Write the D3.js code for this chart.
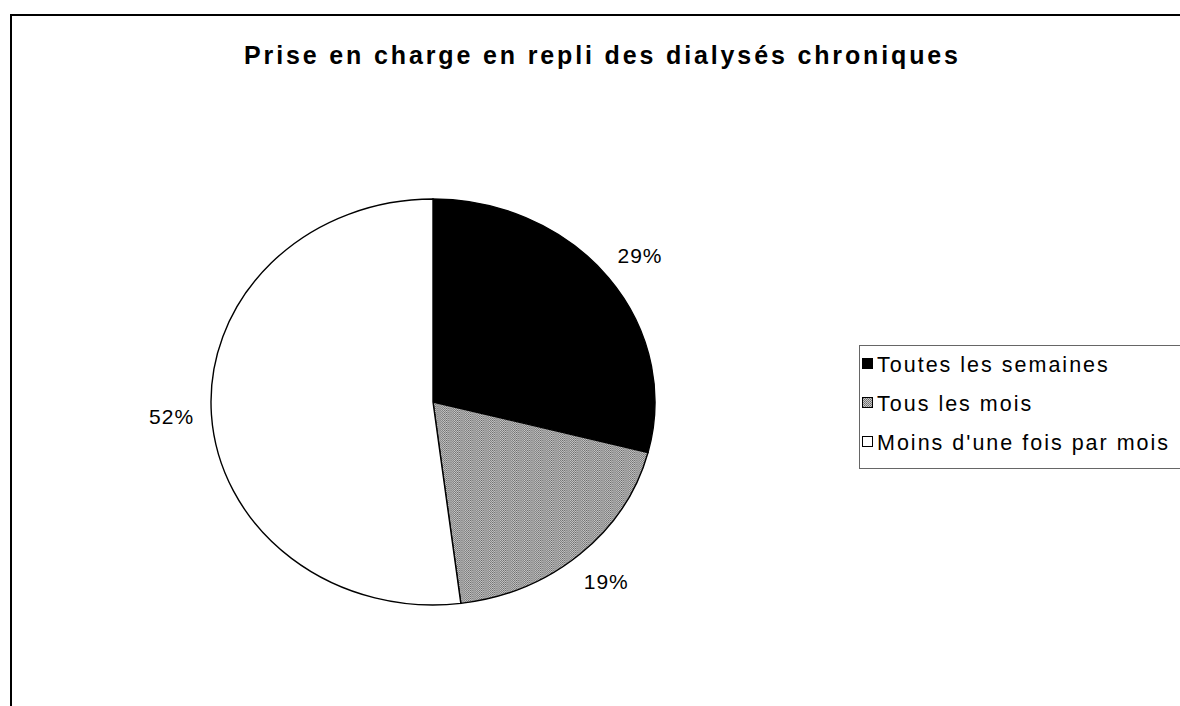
<!DOCTYPE html>
<html>
<head>
<meta charset="utf-8">
<script src="https://cdn.jsdelivr.net/npm/d3@7"></script>
<style>
  body { margin: 0; background: #fff; }
  svg { display: block; font-family: "Liberation Sans", Arial, sans-serif; }
</style>
</head>
<body>
<script>
// chart data
var title = "Prise en charge en repli des dialysés chroniques";
var categories = ["Toutes les semaines", "Tous les mois", "Moins d'une fois par mois"];
var values = [29, 19, 52];
var fills = ["#000", "url(#dither)", "#fff"];

var width = 1180, height = 706;

var svg = d3.select("body").append("svg")
    .attr("width", width)
    .attr("height", height);

// dithered grey like the scanned pattern
var pat = svg.append("defs").append("pattern")
    .attr("id", "dither")
    .attr("width", 2).attr("height", 2)
    .attr("patternUnits", "userSpaceOnUse");
pat.append("rect").attr("width", 2).attr("height", 2).attr("fill", "#c8c8c8");
pat.append("rect").attr("width", 1).attr("height", 1).attr("fill", "#6a6a6a");
pat.append("rect").attr("x", 1).attr("y", 1).attr("width", 1).attr("height", 1).attr("fill", "#7e7e7e");

// frame (top + left edges of the chart area)
svg.append("path")
    .attr("d", "M11,706 V15 H1180")
    .attr("fill", "none")
    .attr("stroke", "#000")
    .attr("stroke-width", 2);

// title
svg.append("text")
    .attr("x", 601)
    .attr("y", 64)
    .attr("text-anchor", "middle")
    .attr("font-size", 25)
    .attr("font-weight", "bold")
    .attr("textLength", 714)
    .attr("lengthAdjust", "spacing")
    .text(title);

// pie (the scan is slightly stretched horizontally)
var cx = 433, cy = 402, r = 203, sx = 222 / 203;

var pie = d3.pie().sort(null).value(function(d) { return d; });
var arcs = pie(values);
var arc = d3.arc().innerRadius(0).outerRadius(r);
var labelArc = d3.arc().innerRadius(r * 1.18).outerRadius(r * 1.18);

var g = svg.append("g")
    .attr("transform", "translate(" + cx + "," + cy + ")");

g.append("g")
    .attr("transform", "scale(" + sx + ",1)")
  .selectAll("path")
  .data(arcs)
  .enter().append("path")
    .attr("d", arc)
    .attr("fill", function(d, i) { return fills[i]; })
    .attr("stroke", "#000")
    .attr("stroke-width", 1.4)
    .attr("vector-effect", "non-scaling-stroke");

g.selectAll("text.lbl")
  .data(arcs)
  .enter().append("text")
    .attr("class", "lbl")
    .attr("x", function(d) { return labelArc.centroid(d)[0] * sx; })
    .attr("y", function(d) { return labelArc.centroid(d)[1]; })
    .attr("dy", "0.35em")
    .attr("text-anchor", "middle")
    .attr("font-size", 21)
    .attr("letter-spacing", 1)
    .text(function(d) { return d.value + "%"; });

// legend
var legend = svg.append("g");
legend.append("rect")
    .attr("x", 859.5).attr("y", 345.5)
    .attr("width", 340).attr("height", 123)
    .attr("fill", "none")
    .attr("stroke", "#666")
    .attr("stroke-width", 1);

var y = d3.scalePoint().domain(categories).range([364, 442]);

var items = legend.selectAll("g.item")
  .data(categories)
  .enter().append("g")
    .attr("class", "item")
    .attr("transform", function(d) { return "translate(862," + y(d) + ")"; });

items.append("rect")
    .attr("x", 0.5).attr("y", -5.5)
    .attr("width", 10).attr("height", 10)
    .attr("fill", function(d, i) { return fills[i]; })
    .attr("stroke", "#000")
    .attr("stroke-width", 1);

items.append("text")
    .attr("x", 15)
    .attr("dy", "0.36em")
    .attr("font-size", 21.5)
    .attr("letter-spacing", 2)
    .text(function(d) { return d; });
</script>
</body>
</html>
